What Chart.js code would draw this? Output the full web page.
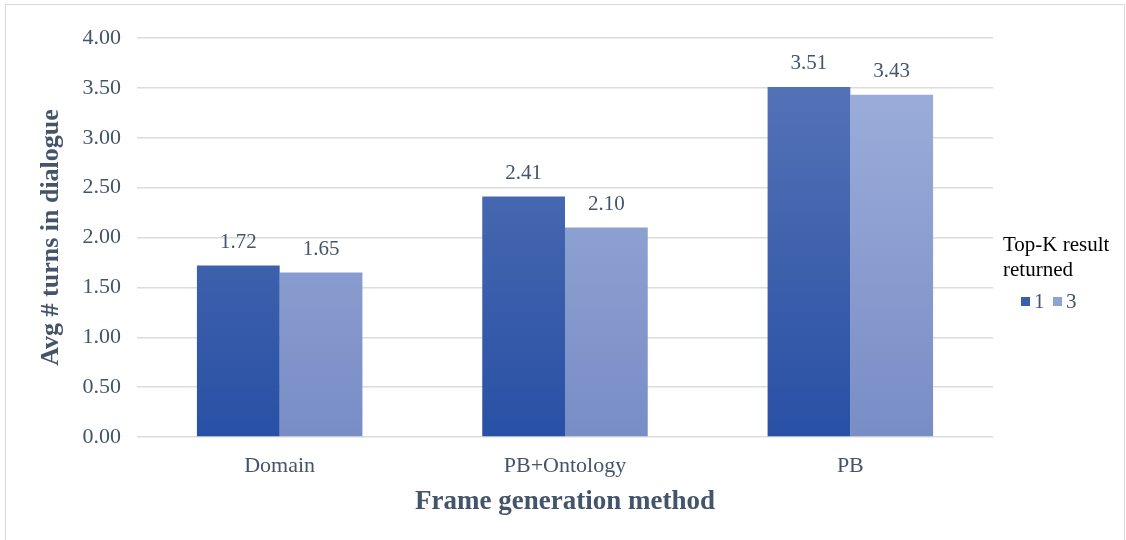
<!DOCTYPE html>
<html>
<head>
<meta charset="utf-8">
<script src="https://cdn.jsdelivr.net/npm/chart.js@4.4.1/dist/chart.umd.min.js"></script>
<style>
  html, body { margin: 0; padding: 0; background: #ffffff; }
  #wrap { width: 1126px; height: 540px; position: relative; }
</style>
</head>
<body>
<div id="wrap"><canvas id="grafico" width="1126" height="540"></canvas></div>
<script>
const categorias = ['Domain', 'PB+Ontology', 'PB'];
const serieTop1 = [1.72, 2.41, 3.51];
const serieTop3 = [1.65, 2.10, 3.43];
const nombresSeries = ['1', '3'];
const tituloLeyenda = ['Top-K result', 'returned'];

const colorTexto = '#44546a';
const fuente = "'Liberation Serif', 'Times New Roman', serif";

// degradado vertical para cada serie
function degradado(ctx, arriba, abajo) {
    const area = ctx.chart.chartArea;
    if (!area) return abajo;
    const g = ctx.chart.ctx.createLinearGradient(0, area.top, 0, area.bottom);
    g.addColorStop(0, arriba);
    g.addColorStop(1, abajo);
    return g;
}

// etiquetas encima de las barras
const pluginValores = {
    id: 'valores',
    afterDatasetsDraw(chart) {
        const ctx = chart.ctx;
        ctx.save();
        ctx.font = '21px ' + fuente;
        ctx.fillStyle = colorTexto;
        ctx.textAlign = 'center';
        ctx.textBaseline = 'middle';
        chart.data.datasets.forEach((ds, i) => {
            chart.getDatasetMeta(i).data.forEach((barra, j) => {
                ctx.fillText(ds.data[j].toFixed(2), barra.x, barra.y - 23);
            });
        });
        ctx.restore();
    }
};

// leyenda a la derecha + borde exterior
const pluginLeyenda = {
    id: 'leyendaDerecha',
    afterDraw(chart) {
        const ctx = chart.ctx;
        ctx.save();
        ctx.strokeStyle = '#d9d9d9';
        ctx.lineWidth = 1;
        ctx.strokeRect(5.5, 4.5, 1119, 545);

        ctx.font = '21px ' + fuente;
        ctx.fillStyle = '#000000';
        ctx.textAlign = 'left';
        ctx.textBaseline = 'middle';
        ctx.fillText(tituloLeyenda[0], 1003, 245);
        ctx.fillText(tituloLeyenda[1], 1003, 270);

        const colores = ['#3a5eae', '#8fa2d4'];
        let x = 1021;
        nombresSeries.forEach((nombre, i) => {
            ctx.fillStyle = colores[i];
            ctx.fillRect(x, 297, 9, 9);
            ctx.fillStyle = colorTexto;
            ctx.fillText(nombre, x + 13, 302);
            x += 32;
        });
        ctx.restore();
    }
};

new Chart(document.getElementById('grafico').getContext('2d'), {
    type: 'bar',
    data: {
        labels: categorias,
        datasets: [{
            label: nombresSeries[0],
            data: serieTop1,
            backgroundColor: ctx => degradado(ctx, '#5a76b9', '#2850a4')
        }, {
            label: nombresSeries[1],
            data: serieTop3,
            backgroundColor: ctx => degradado(ctx, '#a0b1dc', '#788dc6')
        }]
    },
    options: {
        responsive: false,
        animation: false,
        devicePixelRatio: 1,
        layout: { padding: { left: 5, top: 38, right: 133, bottom: 0 } },
        datasets: {
            bar: { barPercentage: 1, categoryPercentage: 0.58 }
        },
        scales: {
            x: {
                grid: { display: false },
                border: { display: false },
                ticks: { color: colorTexto, font: { family: fuente, size: 22 }, padding: 8 },
                title: {
                    display: true,
                    text: 'Frame generation method',
                    color: colorTexto,
                    font: { family: fuente, size: 27, weight: 'bold' },
                    padding: { top: 22, bottom: 22 }
                },
                afterFit(scale) { scale.height = 103; }
            },
            y: {
                min: 0,
                max: 4,
                ticks: {
                    stepSize: 0.5,
                    color: colorTexto,
                    font: { family: fuente, size: 22 },
                    padding: 16,
                    callback: v => v.toFixed(2)
                },
                grid: { color: '#dcdcdc', lineWidth: 1.5, drawTicks: false },
                border: { display: false },
                title: {
                    display: true,
                    text: 'Avg # turns in dialogue',
                    color: colorTexto,
                    font: { family: fuente, size: 26, weight: 'bold' },
                    padding: { top: 31, bottom: 0 }
                },
                afterFit(scale) { scale.width = 132; }
            }
        },
        plugins: {
            legend: { display: false },
            tooltip: { enabled: false }
        }
    },
    plugins: [pluginValores, pluginLeyenda]
});
</script>
</body>
</html>
